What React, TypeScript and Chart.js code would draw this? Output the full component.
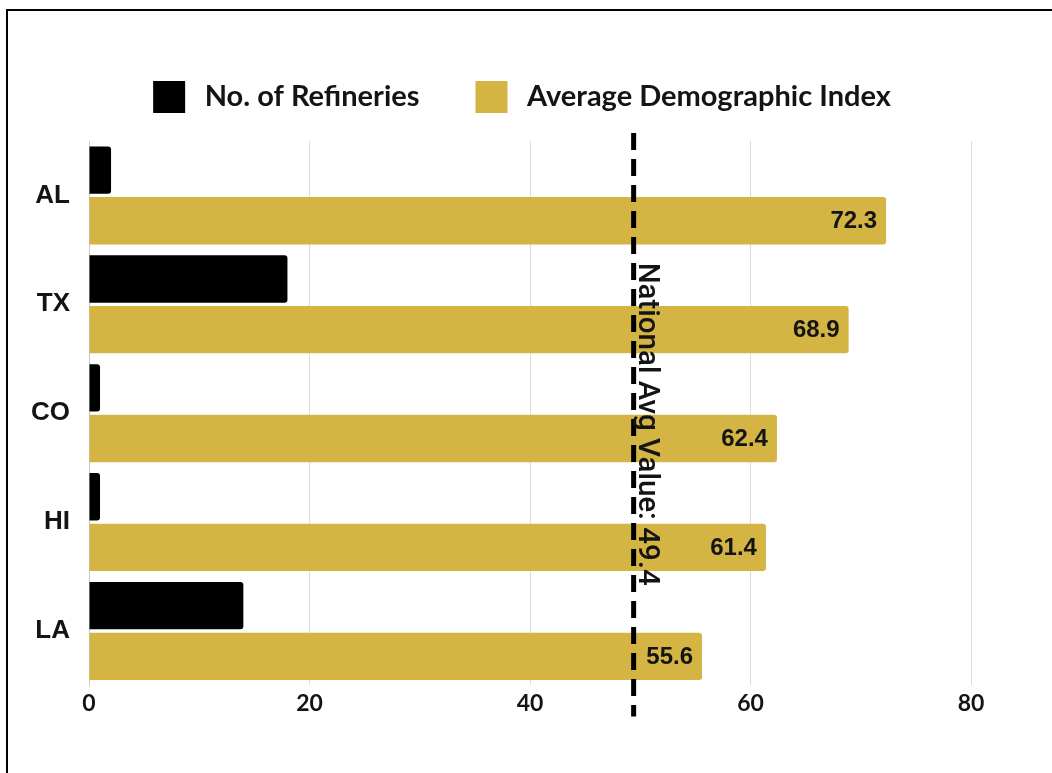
import React, { useEffect, useRef } from "react";
import { Chart, registerables } from "chart.js";

Chart.register(...registerables);

const categories = ["AL", "TX", "CO", "HI", "LA"];
const refineries = [2, 18, 1, 1, 14];
const demographicIndex = [72.3, 68.9, 62.4, 61.4, 55.6];
const seriesNames = ["No. of Refineries", "Average Demographic Index"];
const xMin = 0;
const xMax = 80;
const xStep = 20;
const nationalAvg = 49.4;
const nationalAvgLabel = "National Avg Value: 49.4";

const BLACK = "#000000";
const GOLD = "#D4B443";
const TEXT = "#141414";

export default function App() {
  const canvasRef = useRef<HTMLCanvasElement | null>(null);

  useEffect(() => {
    document.body.style.margin = "0";
    const canvas = canvasRef.current;
    if (!canvas) return;

    const legendTweaks = {
      id: "legendTweaks",
      beforeInit(chart: any) {
        const legend = chart.legend;
        if (!legend) return;
        const origFit = legend.fit;
        legend.fit = function (this: any) {
          origFit.call(this);
          this.height += 18;
        };
        const origDraw = legend.draw;
        legend.draw = function (this: any, ...args: any[]) {
          const ctx = this.ctx;
          const origFillText = ctx.fillText;
          ctx.save();
          ctx.translate(28, 0);
          ctx.fillText = function (t: string, x: number, y: number, ...r: any[]) {
            return origFillText.call(this, t, x + 5, y, ...r);
          };
          try {
            origDraw.apply(this, args);
          } finally {
            ctx.fillText = origFillText;
            ctx.restore();
          }
        };
      },
    };

    const avgLine = {
      id: "avgLine",
      afterDatasetsDraw(chart: any) {
        const { ctx, chartArea, scales } = chart;
        const x = scales.x.getPixelForValue(nationalAvg);
        ctx.save();
        ctx.strokeStyle = "#000";
        ctx.lineWidth = 5;
        ctx.setLineDash([17, 9]);
        ctx.beginPath();
        ctx.moveTo(x, chartArea.top - 8);
        ctx.lineTo(x, chartArea.bottom + 31);
        ctx.stroke();
        ctx.restore();

        // value labels on gold bars
        const meta = chart.getDatasetMeta(1);
        ctx.save();
        ctx.fillStyle = TEXT;
        ctx.font = "bold 24px 'Liberation Sans', Arial, sans-serif";
        ctx.textAlign = "right";
        ctx.textBaseline = "middle";
        meta.data.forEach((bar: any, i: number) => {
          ctx.fillText(demographicIndex[i].toFixed(1), bar.x - 9, bar.y + 1);
        });
        ctx.restore();

        // rotated line label
        const cy = (chartArea.top + chartArea.bottom) / 2 + 11;
        ctx.save();
        ctx.translate(x + 5, cy);
        ctx.rotate(Math.PI / 2);
        ctx.fillStyle = TEXT;
        ctx.font = "500 29.5px Roboto, 'Liberation Sans', Arial, sans-serif";
        ctx.textAlign = "center";
        ctx.textBaseline = "alphabetic";
        ctx.fillText(nationalAvgLabel, 0, 0);
        ctx.restore();
      },
    };

    const chart = new Chart(canvas, {
      type: "bar",
      data: {
        labels: categories,
        datasets: [
          {
            label: seriesNames[0],
            data: refineries,
            backgroundColor: BLACK,
            borderRadius: 3,
            categoryPercentage: 0.93,
            barPercentage: 0.934,
          },
          {
            label: seriesNames[1],
            data: demographicIndex,
            backgroundColor: GOLD,
            borderRadius: 3,
            categoryPercentage: 0.93,
            barPercentage: 0.934,
          },
        ],
      },
      options: {
        indexAxis: "y",
        animation: false,
        responsive: true,
        maintainAspectRatio: false,
        layout: { padding: { left: 12, right: 81, top: 20, bottom: 52 } },
        plugins: {
          legend: {
            position: "top",
            labels: {
              boxWidth: 32,
              boxHeight: 32,
              padding: 61,
              color: TEXT,
              font: { family: "Lato", weight: "bold", size: 29 },
            },
          },
          tooltip: { enabled: false },
        },
        scales: {
          x: {
            type: "linear",
            min: xMin,
            max: xMax,
            ticks: {
              stepSize: xStep,
              padding: 4,
              color: TEXT,
              font: { family: "Lato", weight: "bold", size: 23 },
            },
            grid: { color: "#dcdcdc", lineWidth: 1, drawTicks: false },
            border: { display: false },
          },
          y: {
            ticks: {
              padding: 19,
              color: TEXT,
              font: { family: "'Liberation Sans', Arial", weight: "bold", size: 26 },
            },
            grid: { display: false, drawTicks: false },
            border: { display: true, color: "#c8c8c8", width: 1 },
          },
        },
      },
      plugins: [legendTweaks, avgLine],
    });

    return () => chart.destroy();
  }, []);

  return (
    <div
      style={{
        position: "absolute",
        left: 0,
        top: 0,
        width: 1052,
        height: 773,
        overflow: "hidden",
        background: "#fff",
      }}
    >
      <canvas ref={canvasRef} style={{ position: "absolute", left: 0, top: 0 }} />
      <div
        style={{
          position: "absolute",
          left: 6,
          top: 9,
          width: 1100,
          height: 820,
          borderLeft: "2px solid #000",
          borderTop: "2px solid #000",
          pointerEvents: "none",
        }}
      />
    </div>
  );
}
